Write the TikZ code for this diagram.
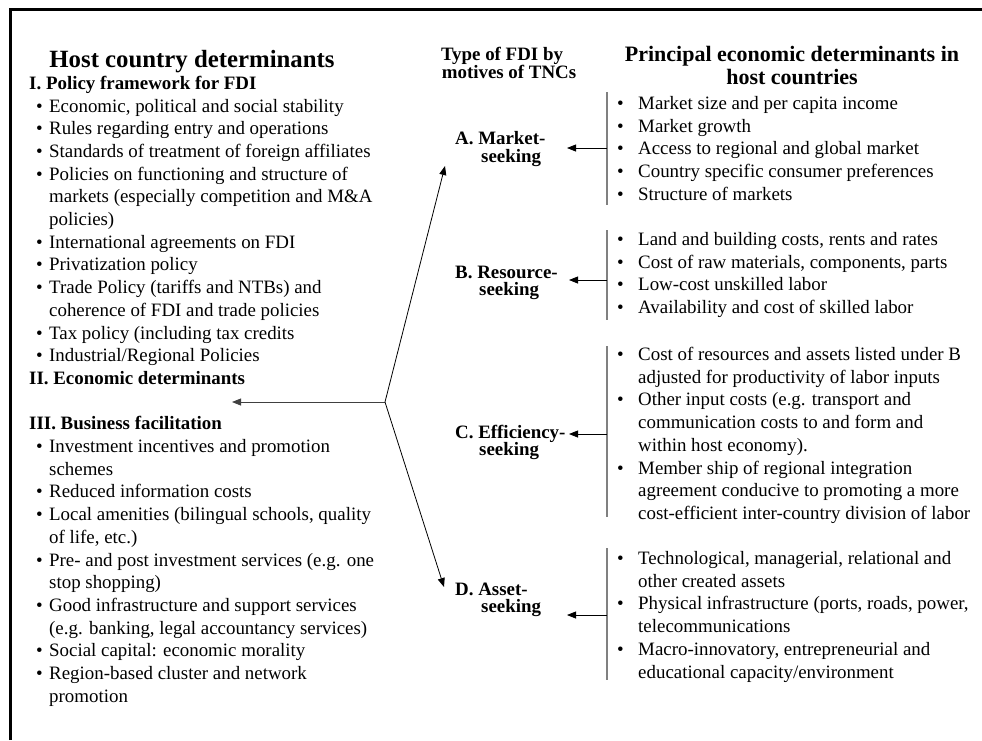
\documentclass[tikz,border=0pt]{standalone}
\usepackage{fontspec}
\setmainfont{Liberation Serif}
\usetikzlibrary{arrows.meta}
\tikzset{
 txt/.style={font=\fontsize{18.9}{22.7}\selectfont, inner sep=0pt, anchor=base west},
 subhd/.style={font=\fontsize{18.9}{22.7}\selectfont\bfseries, inner sep=0pt, anchor=base west},
 hdl/.style={font=\fontsize{24.8}{26}\selectfont\bfseries, inner sep=0pt, anchor=base},
 hdr/.style={font=\fontsize{22}{24}\selectfont\bfseries, inner sep=0pt, anchor=base},
 midhd/.style={font=\fontsize{18.9}{18}\selectfont\bfseries, inner sep=0pt, anchor=base},
 lab/.style={font=\fontsize{18.9}{18}\selectfont\bfseries, inner sep=0pt, anchor=base west},
 vbar/.style={draw=black!50, line width=1.5pt},
 arr/.style={-{Triangle[length=9pt,width=7pt]}, line width=0.8pt},
 frame/.style={line width=3pt},
}
\newcommand\lbul[3]{\node[txt] (#1) at (36,#2) {\makebox[13pt][l]{\textbullet}#3};}
\newcommand\lcon[3]{\node[txt] (#1) at (49,#2) {#3};}
\newcommand\rbul[3]{\node[txt] (#1) at (617,#2) {\makebox[21pt][l]{\textbullet}#3};}
\newcommand\rcon[3]{\node[txt] (#1) at (638,#2) {#3};}
\begin{document}
\begin{tikzpicture}[x=1pt,y=-1pt]
\useasboundingbox (0,0) rectangle (982,740);
% frame
\coordinate (fbl) at (10.5,740);
\coordinate (ftl) at (10.5,9.5);
\coordinate (ftr) at (982,9.5);
\draw[frame] (fbl) -- (ftl) -- (ftr);
% headers
\node[hdl] (hleft) at (192,67) {Host country determinants};
\node[midhd] (hmid1) at (502,60.5) {Type of FDI by};
\node[midhd] (hmid2) at (509,78.5) {motives of TNCs};
\node[hdr] (hright1) at (792,61) {Principal economic determinants in};
\node[hdr] (hright2) at (792,84) {host countries};
% left column
\node[subhd] (s1) at (29,89.3) {I. Policy framework for FDI};
\lbul{l1}{112}{Economic, political and social stability}
\lbul{l2}{134.7}{Rules regarding entry and operations}
\lbul{l3}{157.4}{Standards of treatment of foreign affiliates}
\lbul{l4}{180.1}{Policies on functioning and structure of}
\lcon{l5}{202.8}{markets (especially competition and M\&A}
\lcon{l6}{225.5}{policies)}
\lbul{l7}{248.2}{International agreements on FDI}
\lbul{l8}{270.9}{Privatization policy}
\lbul{l9}{293.6}{Trade Policy (tariffs and NTBs) and}
\lcon{l10}{316.3}{coherence of FDI and trade policies}
\lbul{l11}{339}{Tax policy (including tax credits}
\lbul{l12}{361.7}{Industrial/Regional Policies}
\node[subhd] (s2) at (29,384.4) {II. Economic determinants};
\node[subhd] (s3) at (29,429.8) {III. Business facilitation};
\lbul{l16}{452.5}{Investment incentives and promotion}
\lcon{l17}{475.2}{schemes}
\lbul{l18}{497.9}{Reduced information costs}
\lbul{l19}{520.6}{Local amenities (bilingual schools, quality}
\lcon{l20}{543.3}{of life, etc.)}
\lbul{l21}{566}{Pre- and post investment services (e.g. one}
\lcon{l22}{588.7}{stop shopping)}
\lbul{l23}{611.4}{Good infrastructure and support services}
\lcon{l24}{634.1}{(e.g. banking, legal accountancy services)}
\lbul{l25}{656.8}{Social capital: economic morality}
\lbul{l26}{679.5}{Region-based cluster and network}
\lcon{l27}{702.2}{promotion}
% right column A
\rbul{a1}{109.5}{Market size and per capita income}
\rbul{a2}{132.2}{Market growth}
\rbul{a3}{154.9}{Access to regional and global market}
\rbul{a4}{177.6}{Country specific consumer preferences}
\rbul{a5}{200.3}{Structure of markets}
% B
\rbul{b1}{245.5}{Land and building costs, rents and rates}
\rbul{b2}{268.2}{Cost of raw materials, components, parts}
\rbul{b3}{290.9}{Low-cost unskilled labor}
\rbul{b4}{313.6}{Availability and cost of skilled labor}
% C
\rbul{c1}{360.5}{Cost of resources and assets listed under B}
\rcon{c2}{383.2}{adjusted for productivity of labor inputs}
\rbul{c3}{405.9}{Other input costs (e.g. transport and}
\rcon{c4}{428.6}{communication costs to and form and}
\rcon{c5}{451.3}{within host economy).}
\rbul{c6}{474}{Member ship of regional integration}
\rcon{c7}{496.7}{agreement conducive to promoting a more}
\rcon{c8}{519.4}{cost-efficient inter-country division of labor}
% D
\rbul{d1}{564.5}{Technological, managerial, relational and}
\rcon{d2}{587.2}{other created assets}
\rbul{d3}{609.9}{Physical infrastructure (ports, roads, power,}
\rcon{d4}{632.6}{telecommunications}
\rbul{d5}{655.3}{Macro-innovatory, entrepreneurial and}
\rcon{d6}{678}{educational capacity/environment}
% motive labels
\node[lab] (la1) at (455,144.5) {A. Market-};
\node[lab] (la2) at (481,162) {seeking};
\node[lab] (lb1) at (455,278) {B. Resource-};
\node[lab] (lb2) at (479,295) {seeking};
\node[lab] (lc1) at (455,438.5) {C. Efficiency-};
\node[lab] (lc2) at (479,455.5) {seeking};
\node[lab] (ld1) at (455,595.5) {D. Asset-};
\node[lab] (ld2) at (481,612.5) {seeking};
% vertical bars
\coordinate (At) at (607,92);  \coordinate (Ab) at (607,205);
\coordinate (Bt) at (607,230); \coordinate (Bb) at (607,320);
\coordinate (Ct) at (607,346); \coordinate (Cb) at (607,517);
\coordinate (Dt) at (607,548); \coordinate (Db) at (607,680);
\draw[vbar] (At) -- (Ab);
\draw[vbar] (Bt) -- (Bb);
\draw[vbar] (Ct) -- (Cb);
\draw[vbar] (Dt) -- (Db);
% arrows from bars to labels
\coordinate (Aa) at (607,148); \coordinate (Atip) at (567,148);
\coordinate (Ba) at (607,280); \coordinate (Btip) at (569,280);
\coordinate (Ca) at (607,434); \coordinate (Ctip) at (569,434);
\coordinate (Da) at (607,615); \coordinate (Dtip) at (567,615);
\draw[arr] (Aa) -- (Atip);
\draw[arr] (Ba) -- (Btip);
\draw[arr] (Ca) -- (Ctip);
\draw[arr] (Da) -- (Dtip);
% hub arrows
\coordinate (hub) at (385,402);
\coordinate (ltip) at (232,402);
\coordinate (uptip) at (445,166);
\coordinate (dntip) at (444,587);
\draw[arr, draw=black!75] (hub) -- (ltip);
\draw[arr] (hub) -- (uptip);
\draw[arr] (hub) -- (dntip);
\end{tikzpicture}
\end{document}
